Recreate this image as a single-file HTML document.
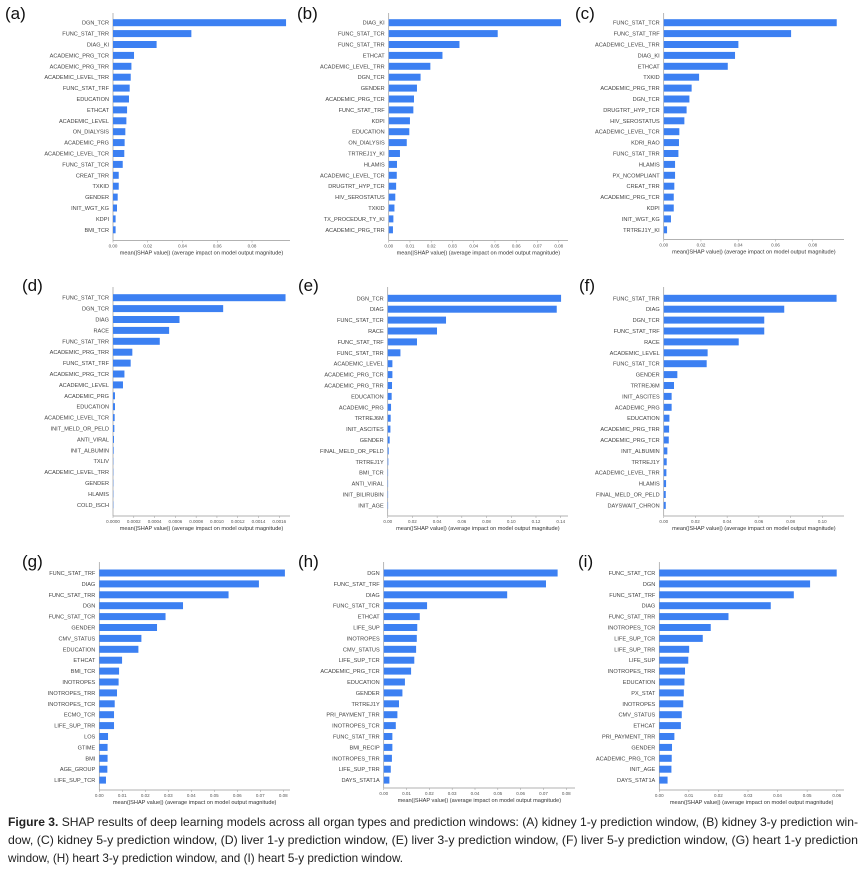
<!DOCTYPE html>
<html><head><meta charset="utf-8">
<style>
html,body{margin:0;padding:0;background:#fff;}
svg{display:block;font-family:"Liberation Sans",sans-serif;}
</style></head>
<body>
<svg id="fig" width="865" height="879" viewBox="0 0 865 879" xmlns="http://www.w3.org/2000/svg">
<g id="caption" font-family="'Liberation Sans Narrow','Liberation Sans',sans-serif" font-size="12" fill="#222">
<text x="8" y="826" textLength="850" lengthAdjust="spacingAndGlyphs"><tspan font-weight="bold">Figure 3.</tspan> SHAP results of deep learning models across all organ types and prediction windows: (A) kidney 1-y prediction window, (B) kidney 3-y prediction win-</text>
<text x="8" y="844" textLength="850" lengthAdjust="spacingAndGlyphs">dow, (C) kidney 5-y prediction window, (D) liver 1-y prediction window, (E) liver 3-y prediction window, (F) liver 5-y prediction window, (G) heart 1-y prediction</text>
<text x="8" y="862" textLength="395" lengthAdjust="spacingAndGlyphs">window, (H) heart 3-y prediction window, and (I) heart 5-y prediction window.</text>
</g>
</svg>
<script>
const labelsA=["DGN_TCR","FUNC_STAT_TRR","DIAG_KI","ACADEMIC_PRG_TCR","ACADEMIC_PRG_TRR","ACADEMIC_LEVEL_TRR","FUNC_STAT_TRF","EDUCATION","ETHCAT","ACADEMIC_LEVEL","ON_DIALYSIS","ACADEMIC_PRG","ACADEMIC_LEVEL_TCR","FUNC_STAT_TCR","CREAT_TRR","TXKID","GENDER","INIT_WGT_KG","KDPI","BMI_TCR"];
const valuesA=[0.0996,0.0451,0.0251,0.0121,0.0106,0.0102,0.0096,0.0092,0.0081,0.0077,0.0071,0.0067,0.0065,0.0056,0.0033,0.0033,0.0027,0.0023,0.0015,0.0015];
const ticksA=[0,0.02,0.04,0.06,0.08];
const labelsB=["DIAG_KI","FUNC_STAT_TCR","FUNC_STAT_TRR","ETHCAT","ACADEMIC_LEVEL_TRR","DGN_TCR","GENDER","ACADEMIC_PRG_TCR","FUNC_STAT_TRF","KDPI","EDUCATION","ON_DIALYSIS","TRTREJ1Y_KI","HLAMIS","ACADEMIC_LEVEL_TCR","DRUGTRT_HYP_TCR","HIV_SEROSTATUS","TXKID","TX_PROCEDUR_TY_KI","ACADEMIC_PRG_TRR"];
const valuesB=[0.0811,0.0513,0.0333,0.0253,0.0196,0.0150,0.0133,0.0119,0.0116,0.0100,0.0097,0.0085,0.0053,0.0039,0.0038,0.0035,0.0031,0.0027,0.0022,0.0020];
const ticksB=[0,0.01,0.02,0.03,0.04,0.05,0.06,0.07,0.08];
const labelsC=["FUNC_STAT_TCR","FUNC_STAT_TRF","ACADEMIC_LEVEL_TRR","DIAG_KI","ETHCAT","TXKID","ACADEMIC_PRG_TRR","DGN_TCR","DRUGTRT_HYP_TCR","HIV_SEROSTATUS","ACADEMIC_LEVEL_TCR","KDRI_RAO","FUNC_STAT_TRR","HLAMIS","PX_NCOMPLIANT","CREAT_TRR","ACADEMIC_PRG_TCR","KDPI","INIT_WGT_KG","TRTREJ1Y_KI"];
const valuesC=[0.0929,0.0684,0.0401,0.0383,0.0344,0.0190,0.0150,0.0138,0.0123,0.0111,0.0084,0.0082,0.0079,0.0061,0.0061,0.0057,0.0054,0.0054,0.0039,0.0018];
const ticksC=[0,0.02,0.04,0.06,0.08];
const labelsD=["FUNC_STAT_TCR","DGN_TCR","DIAG","RACE","FUNC_STAT_TRR","ACADEMIC_PRG_TRR","FUNC_STAT_TRF","ACADEMIC_PRG_TCR","ACADEMIC_LEVEL","ACADEMIC_PRG","EDUCATION","ACADEMIC_LEVEL_TCR","INIT_MELD_OR_PELD","ANTI_VIRAL","INIT_ALBUMIN","TXLIV","ACADEMIC_LEVEL_TRR","GENDER","HLAMIS","COLD_ISCH"];
const valuesD=[0.00166,0.00106,0.00064,0.00054,0.00045,0.000186,0.00017,0.00011,0.000096,0.000019,0.000019,0.000016,0.000013,0.0000096,0.0000064,0.000002,0.000001,0.000001,0.000001,0.000001];
const ticksD=[0,0.0002,0.0004,0.0006,0.0008,0.0010,0.0012,0.0014,0.0016];
const labelsE=["DGN_TCR","DIAG","FUNC_STAT_TCR","RACE","FUNC_STAT_TRF","FUNC_STAT_TRR","ACADEMIC_LEVEL","ACADEMIC_PRG_TCR","ACADEMIC_PRG_TRR","EDUCATION","ACADEMIC_PRG","TRTREJ6M","INIT_ASCITES","GENDER","FINAL_MELD_OR_PELD","TRTREJ1Y","BMI_TCR","ANTI_VIRAL","INIT_BILIRUBIN","INIT_AGE"];
const valuesE=[0.1403,0.1368,0.0472,0.0399,0.0237,0.0103,0.0038,0.0038,0.0035,0.0032,0.0027,0.0024,0.0022,0.0016,0.0008,0.0005,0.0003,0.0003,0.0003,0.0003];
const ticksE=[0,0.02,0.04,0.06,0.08,0.10,0.12,0.14];
const labelsF=["FUNC_STAT_TRR","DIAG","DGN_TCR","FUNC_STAT_TRF","RACE","ACADEMIC_LEVEL","FUNC_STAT_TCR","GENDER","TRTREJ6M","INIT_ASCITES","ACADEMIC_PRG","EDUCATION","ACADEMIC_PRG_TRR","ACADEMIC_PRG_TCR","INIT_ALBUMIN","TRTREJ1Y","ACADEMIC_LEVEL_TRR","HLAMIS","FINAL_MELD_OR_PELD","DAYSWAIT_CHRON"];
const valuesF=[0.1090,0.0760,0.0634,0.0634,0.0473,0.0277,0.0271,0.0086,0.0065,0.0050,0.0050,0.0036,0.0034,0.0032,0.0023,0.0019,0.0017,0.0015,0.0013,0.0013];
const ticksF=[0,0.02,0.04,0.06,0.08,0.10];
const labelsG=["FUNC_STAT_TRF","DIAG","FUNC_STAT_TRR","DGN","FUNC_STAT_TCR","GENDER","CMV_STATUS","EDUCATION","ETHCAT","BMI_TCR","INOTROPES","INOTROPES_TRR","INOTROPES_TCR","ECMO_TCR","LIFE_SUP_TRR","LOS","GTIME","BMI","AGE_GROUP","LIFE_SUP_TCR"];
const valuesG=[0.0807,0.0694,0.0562,0.0364,0.0288,0.0251,0.0183,0.0170,0.0099,0.0086,0.0084,0.0077,0.0067,0.0064,0.0064,0.0038,0.0036,0.0036,0.0035,0.0029];
const ticksG=[0,0.01,0.02,0.03,0.04,0.05,0.06,0.07,0.08];
const labelsH=["DGN","FUNC_STAT_TRF","DIAG","FUNC_STAT_TCR","ETHCAT","LIFE_SUP","INOTROPES","CMV_STATUS","LIFE_SUP_TCR","ACADEMIC_PRG_TCR","EDUCATION","GENDER","TRTREJ1Y","PRI_PAYMENT_TRR","INOTROPES_TCR","FUNC_STAT_TRR","BMI_RECIP","INOTROPES_TRR","LIFE_SUP_TRR","DAYS_STAT1A"];
const valuesH=[0.0762,0.0711,0.0541,0.0190,0.0158,0.0147,0.0145,0.0142,0.0134,0.0120,0.0093,0.0082,0.0067,0.0060,0.0053,0.0038,0.0038,0.0036,0.0031,0.0025];
const ticksH=[0,0.01,0.02,0.03,0.04,0.05,0.06,0.07,0.08];
const labelsI=["FUNC_STAT_TCR","DGN","FUNC_STAT_TRF","DIAG","FUNC_STAT_TRR","INOTROPES_TCR","LIFE_SUP_TCR","LIFE_SUP_TRR","LIFE_SUP","INOTROPES_TRR","EDUCATION","PX_STAT","INOTROPES","CMV_STATUS","ETHCAT","PRI_PAYMENT_TRR","GENDER","ACADEMIC_PRG_TCR","INIT_AGE","DAYS_STAT1A"];
const valuesI=[0.0600,0.0510,0.0455,0.0377,0.0234,0.0174,0.0147,0.0101,0.0098,0.0087,0.0085,0.0083,0.0081,0.0076,0.0073,0.0051,0.0043,0.0042,0.0041,0.0028];
const ticksI=[0,0.01,0.02,0.03,0.04,0.05,0.06];

const NS="http://www.w3.org/2000/svg";
const svg=document.getElementById('fig');
function mk(tag,attrs,parent){const e=document.createElementNS(NS,tag);for(const k in attrs)e.setAttribute(k,attrs[k]);parent.appendChild(e);return e;}

const panels=[
 {id:'a',lab:labelsA,val:valuesA,ticks:ticksA,dec:2,x0:113,xm:252,xr:290,y0:22.7,ax:240.5,top:13,lx:5,ly:19},
 {id:'b',lab:labelsB,val:valuesB,ticks:ticksB,dec:2,x0:388.7,xm:558.7,xr:568,y0:22.7,ax:240.5,top:13,lx:297,ly:19},
 {id:'c',lab:labelsC,val:valuesC,ticks:ticksC,dec:2,x0:663.7,xm:812.7,xr:844,y0:22.7,ax:239.5,top:13,lx:575,ly:19},
 {id:'d',lab:labelsD,val:valuesD,ticks:ticksD,dec:4,x0:113,xm:279.3,xr:290,y0:297.7,ax:516,top:287,lx:22,ly:291},
 {id:'e',lab:labelsE,val:valuesE,ticks:ticksE,dec:2,x0:387.7,xm:560.7,xr:568,y0:298.3,ax:516,top:287,lx:298,ly:291},
 {id:'f',lab:labelsF,val:valuesF,ticks:ticksF,dec:2,x0:663.7,xm:822.3,xr:844,y0:298.3,ax:516,top:287,lx:579,ly:291},
 {id:'g',lab:labelsG,val:valuesG,ticks:ticksG,dec:2,x0:99.3,xm:283.3,xr:290,y0:573,ax:790,top:562,lx:22,ly:567},
 {id:'h',lab:labelsH,val:valuesH,ticks:ticksH,dec:2,x0:383.7,xm:566.3,xr:575,y0:573,ax:788,top:562,lx:298,ly:567},
 {id:'i',lab:labelsI,val:valuesI,ticks:ticksI,dec:2,x0:659.3,xm:836.7,xr:844,y0:573,ax:790,top:562,lx:578,ly:567}
];
const SP=10.9, BH=7;
panels.forEach(p=>{
  const tmax=p.ticks[p.ticks.length-1];
  const xs=v=>p.x0+(p.xm-p.x0)*v/tmax;
  const ys=i=>p.y0+i*SP;
  const g=mk('g',{},svg);
  
  
  const pl=mk('text',{x:p.lx,y:p.ly,'font-size':17,fill:'#111'},g);
  pl.textContent='('+p.id+')';
  
  
  const sp=mk('line',{x1:p.x0,x2:p.x0,y1:p.top,y2:p.ax,stroke:'#999','stroke-width':0.7},g);
  
  
  const xa=mk('line',{x1:p.x0,x2:p.xr,y1:p.ax,y2:p.ax,stroke:'#999','stroke-width':0.7},g);
  
  
  p.val.forEach((v,i)=>{
    const r=mk('rect',{x:p.x0,y:ys(i)-BH/2,width:Math.max(0.3,xs(v)-p.x0),height:BH,fill:'#3c80f2'},g);
    
    
    const t=mk('text',{x:p.x0-4,y:ys(i)+2,'font-size':5.6,fill:'#444','text-anchor':'end'},g);
    t.textContent=p.lab[i];
    
    
  });
  p.ticks.forEach(tv=>{
    const x=xs(tv);
    mk('line',{x1:x,x2:x,y1:p.ax,y2:p.ax+2,stroke:'#999','stroke-width':0.5},g);
    const t=mk('text',{x:x,y:p.ax+7,'font-size':4.5,fill:'#555','text-anchor':'middle'},g);
    t.textContent=tv.toFixed(p.dec);
    
    
  });
  const xl=mk('text',{x:(p.x0+p.xr)/2,y:p.ax+14,'font-size':5.6,fill:'#333','text-anchor':'middle'},g);
  xl.textContent='mean(|SHAP value|) (average impact on model output magnitude)';
  
  
});
</script>
</body></html>
